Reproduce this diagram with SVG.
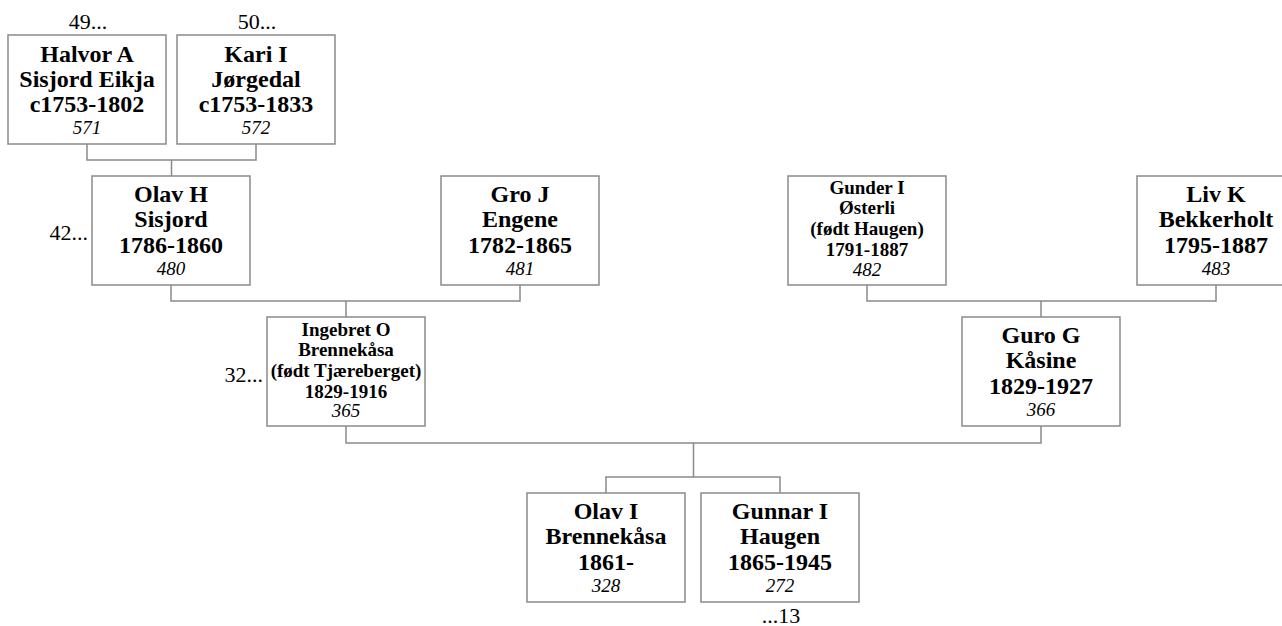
<svg xmlns="http://www.w3.org/2000/svg" width="1282" height="626" viewBox="0 0 1282 626">
<style>
.box{fill:#fff;stroke:#8a8a8a;stroke-width:1.5}
.conn{fill:none;stroke:#8a8a8a;stroke-width:1.5}
text{font-family:"Liberation Serif","Times New Roman",serif;fill:#000;text-anchor:middle}
.b{font-weight:bold;font-size:24px}
.s{font-weight:bold;font-size:19px}
.n{font-style:italic;font-size:19px}
.l{font-size:22px}
</style>
<rect width="1282" height="626" fill="#fff"/>
<g id="connectors">
<path class="conn" d="M87 144V160H256V144M171.5 160V176"/>
<path class="conn" d="M171 285V301H520V285M346 301V317"/>
<path class="conn" d="M867 285V301H1216V285M1041 301V317"/>
<path class="conn" d="M346 426V443H1041V426M693.5 443V477M606 493V477H780V493"/>
</g>
<g id="halvor">
<rect class="box" x="8" y="35" width="158" height="109"/>
<text class="b" x="87" y="62">Halvor A</text>
<text class="b" x="87" y="87">Sisjord Eikja</text>
<text class="b" x="87" y="112">c1753-1802</text>
<text class="n" x="87" y="134">571</text>
</g>
<g id="kari">
<rect class="box" x="177" y="35" width="158" height="109"/>
<text class="b" x="256" y="62">Kari I</text>
<text class="b" x="256" y="87">Jørgedal</text>
<text class="b" x="256" y="112">c1753-1833</text>
<text class="n" x="256" y="134">572</text>
</g>
<g id="olavh">
<rect class="box" x="92" y="176" width="158" height="109"/>
<text class="b" x="171" y="202">Olav H</text>
<text class="b" x="171" y="227">Sisjord</text>
<text class="b" x="171" y="253">1786-1860</text>
<text class="n" x="171" y="275">480</text>
</g>
<g id="gro">
<rect class="box" x="441" y="176" width="158" height="109"/>
<text class="b" x="520" y="202">Gro J</text>
<text class="b" x="520" y="227">Engene</text>
<text class="b" x="520" y="253">1782-1865</text>
<text class="n" x="520" y="275">481</text>
</g>
<g id="gunder">
<rect class="box" x="788" y="176" width="158" height="109"/>
<text class="s" x="867" y="194">Gunder I</text>
<text class="s" x="867" y="214">Østerli</text>
<text class="s" x="867" y="235">(født Haugen)</text>
<text class="s" x="867" y="256">1791-1887</text>
<text class="n" x="867" y="276">482</text>
</g>
<g id="liv">
<rect class="box" x="1137" y="176" width="158" height="109"/>
<text class="b" x="1216" y="202">Liv K</text>
<text class="b" x="1216" y="227">Bekkerholt</text>
<text class="b" x="1216" y="253">1795-1887</text>
<text class="n" x="1216" y="275">483</text>
</g>
<g id="ingebret">
<rect class="box" x="267" y="317" width="158" height="109"/>
<text class="s" x="346" y="336">Ingebret O</text>
<text class="s" x="346" y="356">Brennekåsa</text>
<text class="s" x="346" y="377">(født Tjæreberget)</text>
<text class="s" x="346" y="398">1829-1916</text>
<text class="n" x="346" y="417">365</text>
</g>
<g id="guro">
<rect class="box" x="962" y="317" width="158" height="109"/>
<text class="b" x="1041" y="343">Guro G</text>
<text class="b" x="1041" y="368">Kåsine</text>
<text class="b" x="1041" y="394">1829-1927</text>
<text class="n" x="1041" y="416">366</text>
</g>
<g id="olavi">
<rect class="box" x="527" y="493" width="158" height="109"/>
<text class="b" x="606" y="519">Olav I</text>
<text class="b" x="606" y="544">Brennekåsa</text>
<text class="b" x="606" y="570">1861-</text>
<text class="n" x="606" y="592">328</text>
</g>
<g id="gunnar">
<rect class="box" x="701" y="493" width="158" height="109"/>
<text class="b" x="780" y="519">Gunnar I</text>
<text class="b" x="780" y="544">Haugen</text>
<text class="b" x="780" y="570">1865-1945</text>
<text class="n" x="780" y="592">272</text>
</g>
<g id="labels">
<text class="l" x="88" y="29">49...</text>
<text class="l" x="257" y="29">50...</text>
<text class="l" x="88" y="240" style="text-anchor:end">42...</text>
<text class="l" x="263" y="382" style="text-anchor:end">32...</text>
<text class="l" x="781" y="623">...13</text>
</g>
</svg>
